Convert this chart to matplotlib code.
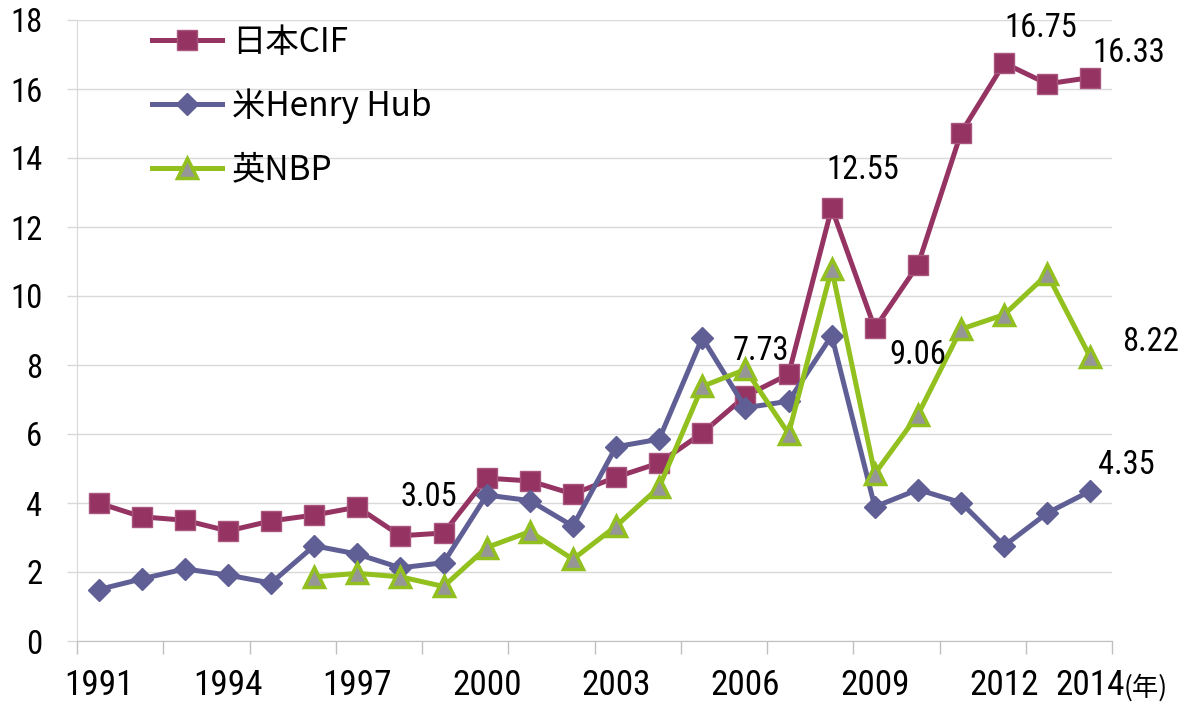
import matplotlib
matplotlib.use('Agg')
import matplotlib.pyplot as plt
from matplotlib import font_manager

# data
years = list(range(1991, 2015))
japan_cif = [4.00, 3.60, 3.50, 3.19, 3.48, 3.65, 3.88, 3.05, 3.13, 4.72, 4.64, 4.26,
             4.75, 5.16, 6.03, 7.10, 7.73, 12.55, 9.06, 10.90, 14.73, 16.75, 16.15, 16.33]
henry_hub = [1.49, 1.80, 2.09, 1.91, 1.68, 2.76, 2.52, 2.12, 2.27, 4.23, 4.07, 3.33,
             5.63, 5.85, 8.79, 6.76, 6.95, 8.85, 3.89, 4.39, 4.01, 2.76, 3.71, 4.35]
nbp_years = list(range(1996, 2015))
uk_nbp = [1.86, 1.96, 1.86, 1.58, 2.71, 3.17, 2.37, 3.33, 4.46, 7.38, 7.87, 6.01,
          10.79, 4.85, 6.56, 9.04, 9.46, 10.63, 8.22]
label_years = [1991, 1994, 1997, 2000, 2003, 2006, 2009, 2012, 2014]

# which points carry a value label: (series, year, offset in pixels)
annotations = [
    ('cif', 1998, (28, 39)),
    ('cif', 2007, (-28, 23)),
    ('cif', 2008, (31, 38)),
    ('cif', 2012, (37, 35)),
    ('cif', 2014, (38, 25)),
    ('cif', 2009, (43, -27)),
    ('nbp', 2014, (60, 15)),
    ('hh', 2014, (36, 26)),
]

# narrow regular-weight font for the numbers if one is around
def _is_narrow(f):
    return ('Narrow' in f.name or 'Condensed' in f.name
            or f.stretch in ('condensed', 'semi-condensed', 'extra-condensed', 600, 700))

fonts = font_manager.fontManager.ttflist
narrow = [f for f in fonts if _is_narrow(f) and f.style == 'normal'
          and f.weight in (400, 'normal', 'regular', 'book')]
order = ['Liberation Sans Narrow', 'Roboto Condensed', 'DejaVu Sans', 'Noto Sans', 'Open Sans']
narrow.sort(key=lambda f: order.index(f.name) if f.name in order else len(order))
if narrow:
    num_prop = font_manager.FontProperties(fname=narrow[0].fname)
    num_scale = 0.94
else:
    num_prop = font_manager.FontProperties(family='Noto Sans CJK JP')
    num_scale = 0.85
cjk_font = ['Noto Sans CJK JP', 'DejaVu Sans']

plt.rcParams['font.family'] = cjk_font

fig = plt.figure(figsize=(11.8, 7.04), dpi=100)
ax = fig.add_axes([77 / 1180, 63 / 704, 1035 / 1180, 621 / 704])

x_all = [years.index(y) for y in years]
x_nbp = [years.index(y) for y in nbp_years]

ax.plot(x_all, japan_cif, color='#953462', lw=3.6, marker='s', ms=15,
        mfc='#953462', mec='#A9557E', mew=1, label='日本CIF', zorder=3)
ax.plot(x_all, henry_hub, color='#5F5F96', lw=3.6, marker='D', ms=11,
        mfc='#5F5F96', mec='#5F5F96', mew=1, label='米Henry Hub', zorder=4)
ax.plot(x_nbp, uk_nbp, color='#92C01F', lw=3.6, marker='^', ms=14,
        mfc='#969696', mec='#92C01F', mew=2.5, label='英NBP', zorder=5)

series = {'cif': japan_cif, 'hh': henry_hub}
for key, yr, off in annotations:
    if key == 'nbp':
        val = uk_nbp[nbp_years.index(yr)]
    else:
        val = series[key][years.index(yr)]
    ax.annotate(f'{val:.2f}', xy=(years.index(yr), val), xytext=off,
                textcoords='offset pixels', ha='center', va='center',
                fontproperties=num_prop, fontsize=25 * num_scale, color='black', zorder=6)

ax.set_xlim(-0.5, len(years) - 0.5)
ax.set_ylim(0, 18)
ax.set_yticks(range(0, 19, 2))
ax.tick_params(axis='y', length=7, color='#D9D9D9', pad=18, width=1)
for lab in ax.get_yticklabels():
    lab.set_fontproperties(num_prop)
    lab.set_fontsize(25 * num_scale)

# tick marks every two categories, labels on chosen years
ax.set_xticks([i - 0.5 for i in range(0, len(years) + 1, 2)])
ax.set_xticklabels([])
ax.set_xticks([years.index(y) for y in label_years], minor=True)
ax.set_xticklabels([str(y) for y in label_years], minor=True)
ax.tick_params(axis='x', which='major', length=9, color='#BFBFBF', width=1)
ax.tick_params(axis='x', which='minor', length=0, pad=20)
for lab in ax.get_xticklabels(minor=True):
    lab.set_fontproperties(num_prop)
    lab.set_fontsize(27 * num_scale)

ax.text(1.011, -0.075, '(年)', transform=ax.transAxes, family=cjk_font,
        fontsize=19, ha='left', va='center')

ax.grid(axis='y', color='#D9D9D9', lw=1)
ax.set_axisbelow(True)
for side in ['top', 'right']:
    ax.spines[side].set_visible(False)
ax.spines['left'].set_color('#D9D9D9')
ax.spines['bottom'].set_color('#BFBFBF')

leg = ax.legend(loc='upper left', bbox_to_anchor=(152 / 1180, 1 - 25 / 704),
                bbox_transform=fig.transFigure, frameon=False, borderpad=0,
                borderaxespad=0, handlelength=2.1, handletextpad=0.3,
                labelspacing=0.85, prop={'family': cjk_font, 'size': 24})

plt.savefig('out.png', dpi=100)
plt.close()
